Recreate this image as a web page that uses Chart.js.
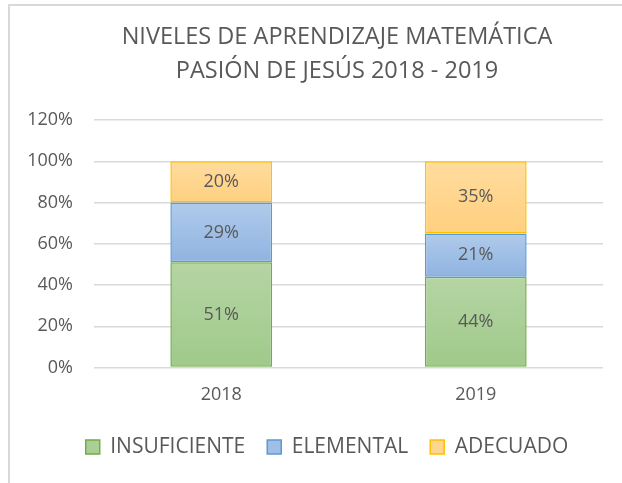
<!DOCTYPE html>
<html lang="es">
<head>
    <meta charset="UTF-8">
    <title>Niveles de aprendizaje matemática</title>
    <script src="https://cdn.jsdelivr.net/npm/chart.js"></script>
    <style>
        html, body {
            margin: 0;
            padding: 0;
            background: #ffffff;
            overflow: hidden;
        }
        #wrap {
            position: relative;
            width: 622px;
            height: 483px;
        }
    </style>
</head>
<body>
<div id="wrap">
    <canvas id="nivelesChart" width="622" height="483"></canvas>
</div>

<script>
    // Datos del gráfico
    const categories = ['2018', '2019'];
    const seriesNames = ['INSUFICIENTE', 'ELEMENTAL', 'ADECUADO'];
    const insuficiente = [51, 44];
    const elemental = [29, 21];
    const adecuado = [20, 35];
    const yMax = 120;
    const yStep = 20;

    const textColor = '#595959';
    const gridColor = '#d9d9d9';
    const fontFamily = '"Open Sans", "Noto Sans", sans-serif';

    // degradado vertical por segmento (como en Excel)
    function segGradient(topColor, bottomColor) {
        return function (ctx) {
            const chart = ctx.chart;
            const y = chart.scales.y;
            if (!y || ctx.type !== 'data') return bottomColor;
            let base = 0;
            for (let d = 0; d < ctx.datasetIndex; d++) {
                base += chart.data.datasets[d].data[ctx.dataIndex];
            }
            const val = chart.data.datasets[ctx.datasetIndex].data[ctx.dataIndex];
            const y0 = y.getPixelForValue(base + val);
            const y1 = y.getPixelForValue(base);
            if (!isFinite(y0) || !isFinite(y1)) return bottomColor;
            const g = chart.ctx.createLinearGradient(0, y0, 0, y1);
            g.addColorStop(0, topColor);
            g.addColorStop(1, bottomColor);
            return g;
        };
    }

    const legendFill = ['#a9cf96', '#9fbfe6', '#ffd68e'];

    // borde del área del gráfico
    const chartFrame = {
        id: 'chartFrame',
        beforeDraw(chart) {
            const c = chart.ctx;
            c.save();
            c.fillStyle = '#ffffff';
            c.fillRect(0, 0, chart.width, chart.height);
            c.fillStyle = gridColor;
            c.fillRect(8, 4, 2, chart.height);
            c.fillRect(8, 4, chart.width, 2);
            c.restore();
        }
    };

    // la leyenda de Excel queda un poco a la izquierda del título
    const legendShift = {
        id: 'legendShift',
        afterLayout(chart) {
            if (chart.legend) {
                chart.legend.left -= 10;
                chart.legend.right -= 10;
            }
        }
    };

    // etiquetas de datos en el centro de cada segmento
    const dataLabels = {
        id: 'dataLabels',
        afterDatasetsDraw(chart) {
            const c = chart.ctx;
            c.save();
            c.font = '18px ' + fontFamily;
            c.fillStyle = textColor;
            c.textAlign = 'center';
            c.textBaseline = 'middle';
            chart.data.datasets.forEach((ds, i) => {
                chart.getDatasetMeta(i).data.forEach((el, j) => {
                    c.fillText(ds.data[j] + '%', el.x, (el.y + el.base) / 2);
                });
            });
            c.restore();
        }
    };

    const ctx = document.getElementById('nivelesChart').getContext('2d');
    const nivelesChart = new Chart(ctx, {
        type: 'bar',
        data: {
            labels: categories,
            datasets: [
                {
                    label: seriesNames[0],
                    data: insuficiente,
                    backgroundColor: segGradient('#b5d5a3', '#a0c98b'),
                    borderColor: '#70ad47'
                },
                {
                    label: seriesNames[1],
                    data: elemental,
                    backgroundColor: segGradient('#b0cbeb', '#8fb3e0'),
                    borderColor: '#5b9bd5'
                },
                {
                    label: seriesNames[2],
                    data: adecuado,
                    backgroundColor: segGradient('#ffdc9e', '#ffd07f'),
                    borderColor: '#ffc000'
                }
            ]
        },
        options: {
            responsive: false,
            animation: false,
            devicePixelRatio: 1,
            datasets: {
                bar: {
                    borderWidth: 1.5,
                    borderSkipped: false,
                    barPercentage: 0.4,
                    categoryPercentage: 1
                }
            },
            layout: {
                padding: { left: 71, right: 19, top: 0, bottom: 15.5 }
            },
            scales: {
                x: {
                    stacked: true,
                    grid: { display: false, drawTicks: false },
                    border: { display: false },
                    ticks: {
                        color: textColor,
                        font: { family: fontFamily, size: 18 },
                        padding: 17
                    },
                    afterFit(scale) { scale.height = 47; }
                },
                y: {
                    stacked: true,
                    min: 0,
                    max: yMax,
                    grid: { color: gridColor, lineWidth: 1.5, drawTicks: false },
                    border: { display: false },
                    ticks: {
                        stepSize: yStep,
                        color: textColor,
                        font: { family: fontFamily, size: 18 },
                        padding: 21,
                        callback: v => v + '%'
                    },
                    afterFit(scale) {
                        scale.width = 23;
                        // las etiquetas salen del ancho del eje: no recortarlas
                        scale._computeLabelArea = () => undefined;
                    }
                }
            },
            plugins: {
                title: {
                    display: true,
                    text: ['NIVELES DE APRENDIZAJE MATEMÁTICA', 'PASIÓN DE JESÚS 2018 - 2019'],
                    color: textColor,
                    font: { family: fontFamily, size: 23.5, weight: 'normal', lineHeight: 1.45 },
                    padding: { top: 20, bottom: 31.85 }
                },
                legend: {
                    position: 'bottom',
                    labels: {
                        color: textColor,
                        font: { family: fontFamily, size: 21 },
                        boxWidth: 14,
                        boxHeight: 14,
                        padding: 22,
                        generateLabels: chart => chart.data.datasets.map((ds, i) => ({
                            text: ds.label,
                            fillStyle: legendFill[i],
                            strokeStyle: ds.borderColor,
                            lineWidth: 1.5,
                            fontColor: textColor,
                            hidden: false,
                            datasetIndex: i
                        }))
                    }
                },
                tooltip: { enabled: false }
            }
        },
        plugins: [chartFrame, legendShift, dataLabels]
    });
</script>
</body>
</html>
